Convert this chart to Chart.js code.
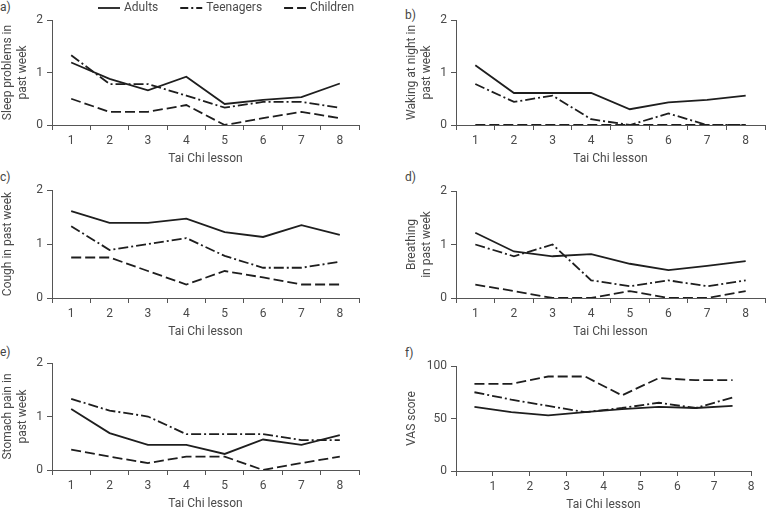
<!DOCTYPE html>
<html>
<head>
<meta charset="utf-8">
<script src="https://cdn.jsdelivr.net/npm/chart.js@4.4.0/dist/chart.umd.min.js"></script>
<style>
  html, body { margin: 0; padding: 0; background: #fff; overflow: hidden; }
  #wrap { position: relative; width: 769px; height: 510px; }
  #wrap canvas { position: absolute; }
  .tag { position: absolute; font: 12px Roboto, sans-serif; color: #444; line-height: 14px; }
</style>
</head>
<body>
<div id="wrap">
  <div class="tag" style="left:0px;top:0px">a)</div>
  <div class="tag" style="left:405px;top:8px">b)</div>
  <div class="tag" style="left:0px;top:170px">c)</div>
  <div class="tag" style="left:405px;top:170px">d)</div>
  <div class="tag" style="left:0px;top:345px">e)</div>
  <div class="tag" style="left:405px;top:346px">f)</div>

  <canvas id="chartA" width="385" height="170" style="left:0px;top:0px"></canvas>
  <canvas id="chartB" width="365" height="170" style="left:404px;top:0px"></canvas>
  <canvas id="chartC" width="385" height="173" style="left:0px;top:170px"></canvas>
  <canvas id="chartD" width="365" height="172" style="left:404px;top:171px"></canvas>
  <canvas id="chartE" width="385" height="172" style="left:0px;top:343px"></canvas>
  <canvas id="chartF" width="365" height="170" style="left:404px;top:346px"></canvas>
</div>
<script>
// 데이터
const lessons = ['1', '2', '3', '4', '5', '6', '7', '8'];
const groups = ['Adults', 'Teenagers', 'Children'];

// a) sleep problems
const sleepAdults = [1.19, 0.88, 0.66, 0.92, 0.40, 0.48, 0.53, 0.79];
const sleepTeens = [1.33, 0.78, 0.78, 0.56, 0.33, 0.44, 0.44, 0.33];
const sleepChildren = [0.5, 0.25, 0.25, 0.38, 0, 0.13, 0.25, 0.13];

// b) waking at night
const wakeAdults = [1.14, 0.61, 0.61, 0.61, 0.30, 0.43, 0.48, 0.56];
const wakeTeens = [0.78, 0.44, 0.56, 0.11, 0, 0.22, 0, 0];
const wakeChildren = [0, 0, 0, 0, 0, 0, 0, 0];

// c) cough
const coughAdults = [1.61, 1.39, 1.39, 1.47, 1.22, 1.13, 1.35, 1.17];
const coughTeens = [1.33, 0.89, 1.0, 1.11, 0.78, 0.56, 0.56, 0.67];
const coughChildren = [0.75, 0.75, 0.5, 0.25, 0.5, 0.38, 0.25, 0.25];

// d) breathing
const breathAdults = [1.22, 0.87, 0.78, 0.82, 0.64, 0.52, 0.60, 0.69];
const breathTeens = [1.0, 0.78, 1.0, 0.33, 0.22, 0.33, 0.22, 0.33];
const breathChildren = [0.25, 0.13, 0, 0, 0.13, 0, 0, 0.13];

// e) stomach pain
const stomachAdults = [1.14, 0.69, 0.47, 0.47, 0.30, 0.57, 0.47, 0.65];
const stomachTeens = [1.33, 1.11, 1.0, 0.67, 0.67, 0.67, 0.56, 0.56];
const stomachChildren = [0.38, 0.25, 0.13, 0.25, 0.25, 0, 0.13, 0.25];

// f) VAS score (points sit between lessons)
const vasX = [0.5, 1.5, 2.5, 3.5, 4.5, 5.5, 6.5, 7.5];
const vasAdults = [61, 56, 53, 56, 59, 61, 60, 62];
const vasTeens = [75, 68, 62, 56, 60, 65, 60, 70];
const vasChildren = [83, 83, 90, 90, 72, 88.5, 86.5, 86.5];

// 스타일
const lineColor = '#1e1e1e';
const textColor = '#4a4a4a';
const axisColor = '#555';
const font = { family: 'Roboto, sans-serif', size: 12 };
const titleFont = { family: 'Roboto, sans-serif', size: 12, lineHeight: 1.3 };
const dashes = [[], [10, 3, 2, 3], [10, 4]];
const legendDashes = [[], [8, 3, 2, 3], [9, 4]];

// 범례 (a 패널 위쪽)
const lineLegend = {
    id: 'lineLegend',
    afterDraw(chart, args, opts) {
        if (!opts.show) return;
        const ctx = chart.ctx;
        let x = opts.x;
        const y = opts.y;
        ctx.save();
        ctx.font = '12px Roboto, sans-serif';
        ctx.textBaseline = 'middle';
        chart.data.datasets.forEach((ds, i) => {
            ctx.strokeStyle = ds.borderColor;
            ctx.lineWidth = ds.borderWidth;
            ctx.setLineDash(legendDashes[i]);
            ctx.beginPath();
            ctx.moveTo(x, y);
            ctx.lineTo(x + 22, y);
            ctx.stroke();
            ctx.setLineDash([]);
            ctx.fillStyle = textColor;
            ctx.fillText(ds.label, x + 26, y);
            x += 26 + ctx.measureText(ds.label).width + 22;
        });
        ctx.restore();
    }
};

function makeDatasets(series, xs) {
    return series.map((vals, i) => ({
        label: groups[i],
        data: xs ? vals.map((v, k) => ({ x: xs[k], y: v })) : vals,
        borderColor: lineColor,
        borderWidth: 1.8,
        borderDash: dashes[i],
        pointRadius: 0,
        tension: 0,
        fill: false
    }));
}

function yAxis(max, step, title) {
    return {
        min: 0,
        max: max,
        ticks: { stepSize: step, color: textColor, font: font, padding: 4 },
        grid: { drawOnChartArea: false, tickLength: 5, color: axisColor },
        border: { color: axisColor, width: 1 },
        title: { display: true, text: title, color: textColor, font: titleFont, padding: 0 },
        afterFit(s) { s.width = 52; }
    };
}

const xTitle = { display: true, text: 'Tai Chi lesson', color: textColor, font: font, padding: { top: 0, bottom: 4 } };

function makePanel(id, series, yTitle, padRight, showLegend) {
    return new Chart(document.getElementById(id), {
        type: 'line',
        data: { labels: lessons, datasets: makeDatasets(series) },
        options: {
            responsive: false,
            animation: false,
            layout: { padding: { top: 20, right: padRight, left: 0, bottom: 0 } },
            plugins: {
                legend: { display: false },
                tooltip: { enabled: false },
                lineLegend: { show: showLegend, x: 98, y: 8 }
            },
            scales: {
                x: {
                    offset: true,
                    grid: { offset: true, drawOnChartArea: false, tickLength: 5, color: axisColor },
                    border: { color: axisColor, width: 1 },
                    ticks: { color: textColor, font: font, padding: 4, maxRotation: 0, autoSkip: false },
                    title: xTitle,
                    afterFit(s) { s.height = 45; }
                },
                y: yAxis(2, 1, yTitle)
            }
        },
        plugins: [lineLegend]
    });
}

makePanel('chartA', [sleepAdults, sleepTeens, sleepChildren], ['Sleep problems in', 'past week'], 26, true);
makePanel('chartB', [wakeAdults, wakeTeens, wakeChildren], ['Waking at night in', 'past week'], 4, false);
makePanel('chartC', [coughAdults, coughTeens, coughChildren], 'Cough in past week', 26, false);
makePanel('chartD', [breathAdults, breathTeens, breathChildren], ['Breathing', 'in past week'], 4, false);
makePanel('chartE', [stomachAdults, stomachTeens, stomachChildren], ['Stomach pain in', 'past week'], 26, false);

// f) VAS 패널: x축이 선형 (0~8)
new Chart(document.getElementById('chartF'), {
    type: 'line',
    data: { datasets: makeDatasets([vasAdults, vasTeens, vasChildren], vasX) },
    options: {
        responsive: false,
        animation: false,
        layout: { padding: { top: 20, right: 18, left: 0, bottom: 0 } },
        plugins: { legend: { display: false }, tooltip: { enabled: false } },
        scales: {
            x: {
                type: 'linear',
                min: 0,
                max: 8,
                grid: { drawOnChartArea: false, tickLength: 5, color: axisColor },
                border: { color: axisColor, width: 1 },
                ticks: {
                    stepSize: 1, color: textColor, font: font, padding: 4, maxRotation: 0,
                    callback: v => (v === 0 ? '' : v)
                },
                title: xTitle,
                afterFit(s) { s.height = 45; }
            },
            y: yAxis(100, 50, 'VAS score')
        }
    }
});
</script>
</body>
</html>
